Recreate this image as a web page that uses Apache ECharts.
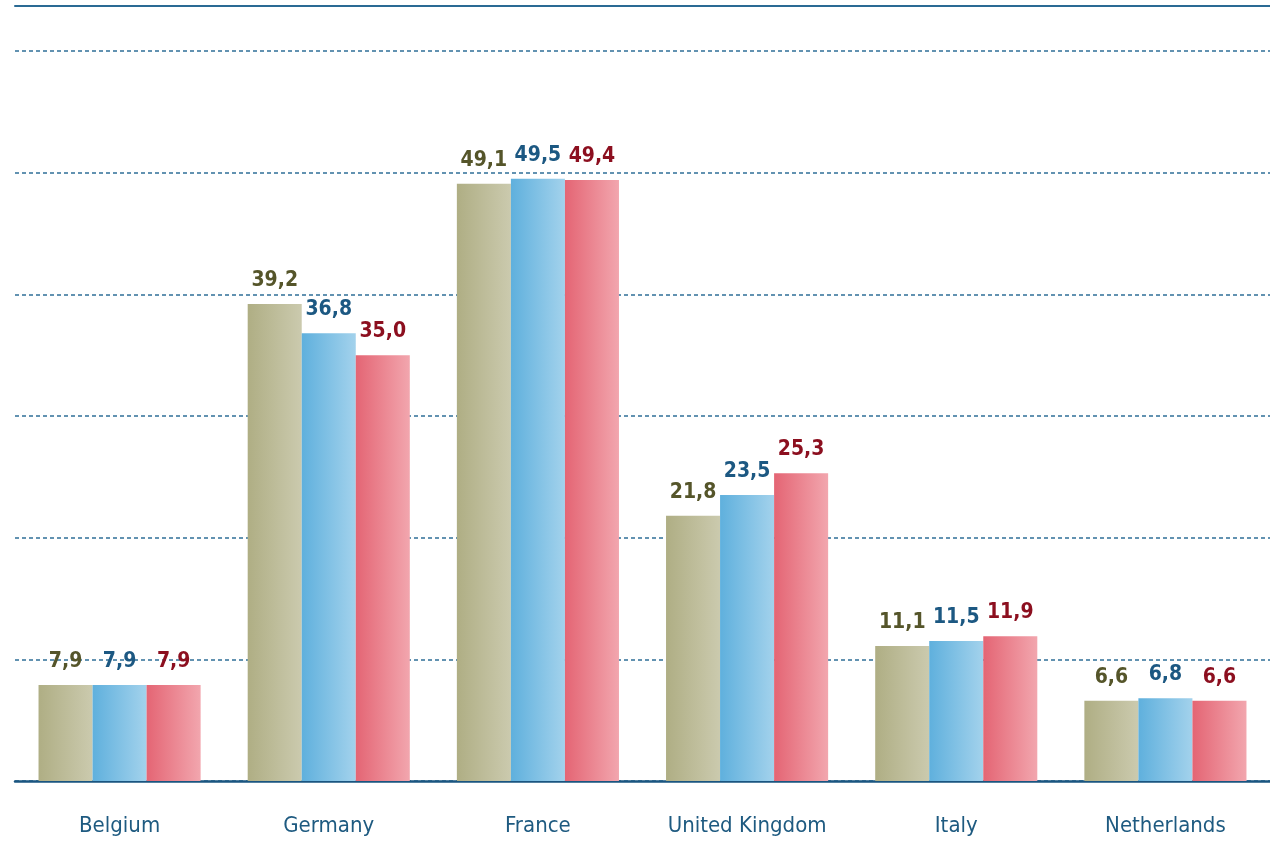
<!DOCTYPE html>
<html>
<head>
<meta charset="utf-8">
<script src="https://cdn.jsdelivr.net/npm/echarts@6/dist/echarts.min.js"></script>
<style>
  html, body { margin:0; padding:0; background:#fff; }
  #main { width:1270px; height:862px; }
</style>
</head>
<body>
<div id="main"></div>
<script>
var countries = ['Belgium', 'Germany', 'France', 'United Kingdom', 'Italy', 'Netherlands'];
var serie1 = [7.9, 39.2, 49.1, 21.8, 11.1, 6.6];
var serie2 = [7.9, 36.8, 49.5, 23.5, 11.5, 6.8];
var serie3 = [7.9, 35.0, 49.4, 25.3, 11.9, 6.6];

var myChart = echarts.init(document.getElementById('main'));

var narrow = '"DejaVu Sans Condensed", "Liberation Sans Narrow", sans-serif';

// colori: barra sfumata + colore etichetta
function grad(c1, c2) {
  return new echarts.graphic.LinearGradient(0, 0, 1, 0, [
    { offset: 0, color: c1 },
    { offset: 1, color: c2 }
  ]);
}

function makeSerie(name, data, c1, c2, labelColor) {
  return {
    name: name,
    type: 'bar',
    data: data,
    barGap: '0%',
    barCategoryGap: '22.5%',
    itemStyle: { color: grad(c1, c2) },
    labelLayout: { hideOverlap: false },
    label: {
      show: true,
      position: 'top',
      distance: 13,
      color: labelColor,
      fontFamily: narrow,
      fontWeight: 'bold',
      fontSize: 21,
      formatter: function (p) { return p.value.toFixed(1).replace('.', ','); }
    }
  };
}

var option = {
  animation: false,
  grid: { left: 15, right: 0, top: 6, bottom: 81, containLabel: false },
  xAxis: [{
    type: 'category',
    data: countries,
    axisLine: { lineStyle: { color: '#1a5580', width: 2.5 } },
    axisTick: { show: false },
    axisLabel: {
      interval: 0,
      margin: 34,
      color: '#1e5a80',
      fontFamily: narrow,
      fontSize: 22
    }
  }, {
    type: 'category',
    position: 'top',
    data: countries,
    axisLine: { lineStyle: { color: '#2a6a94', width: 2 } },
    axisTick: { show: false },
    axisLabel: { show: false }
  }],
  yAxis: {
    type: 'value',
    min: 0,
    max: 63.7,
    interval: 10,
    axisLabel: { show: false },
    axisLine: { show: false },
    axisTick: { show: false },
    splitLine: {
      lineStyle: { color: '#2f6f98', width: 1.5, type: [4, 3] }
    }
  },
  series: [
    makeSerie('Serie 1', serie1, '#afae84', '#cbcaae', '#55552a'),
    makeSerie('Serie 2', serie2, '#5fb0dd', '#a3d2ec', '#1c5882'),
    makeSerie('Serie 3', serie3, '#e46574', '#f2a6ae', '#8c0f1f')
  ]
};

myChart.setOption(option);
</script>
</body>
</html>
